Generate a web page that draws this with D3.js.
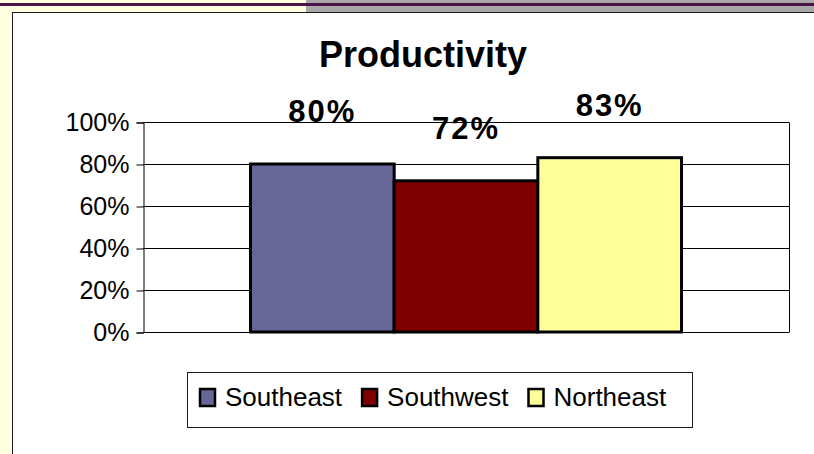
<!DOCTYPE html>
<html>
<head>
<meta charset="utf-8">
<script src="https://cdn.jsdelivr.net/npm/d3@7"></script>
<style>
  html, body { margin: 0; padding: 0; background: #ffffe0; }
  svg { display: block; font-family: "Liberation Sans", Arial, sans-serif; }
</style>
</head>
<body>
<svg id="chart" width="814" height="454"></svg>
<script>
// Chart data
const categories = ["Productivity"];
const seriesNames = ["Southeast", "Southwest", "Northeast"];
const seriesValues = [0.80, 0.72, 0.83];
const seriesColors = ["#666699", "#800000", "#ffff99"];
const tickValues = [0, 0.2, 0.4, 0.6, 0.8, 1.0];
const chartTitle = "Productivity";

const svg = d3.select("#chart");
const W = 814, H = 454;

// Slide background: cream strip, purple rule, grey block on the right
svg.append("rect").attr("x", 0).attr("y", 0).attr("width", W).attr("height", H).attr("fill", "#ffffe0");
svg.append("rect").attr("x", 306).attr("y", 0).attr("width", W - 306).attr("height", 12).attr("fill", "#a8a8a8");
svg.append("rect").attr("x", 0).attr("y", 3).attr("width", W).attr("height", 3).attr("fill", "#4a1446");

// Chart frame
svg.append("rect").attr("x", 12.5).attr("y", 12.5).attr("width", W).attr("height", H)
  .attr("fill", "#ffffff").attr("stroke", "#1a1a1a").attr("stroke-width", 1);

// Plot area
const plot = { left: 143, right: 789, top: 122, bottom: 332 };

const y = d3.scaleLinear().domain([0, 1]).range([plot.bottom, plot.top]);
const x0 = d3.scaleBand().domain(categories).range([plot.left, plot.right])
  .paddingInner(0).paddingOuter(0.2494);
const x1 = d3.scaleBand().domain(seriesNames).range([0, x0.bandwidth()]).padding(0);
const color = d3.scaleOrdinal().domain(seriesNames).range(seriesColors);

// Gridlines
svg.append("g").selectAll("line").data(tickValues).join("line")
  .attr("x1", plot.left).attr("x2", plot.right)
  .attr("y1", d => Math.round(y(d)) + 0.5).attr("y2", d => Math.round(y(d)) + 0.5)
  .attr("stroke", "#000").attr("stroke-width", 1);

// Plot border on the right
svg.append("line")
  .attr("x1", plot.right + 0.5).attr("x2", plot.right + 0.5)
  .attr("y1", Math.round(plot.top) + 0.5).attr("y2", Math.round(plot.bottom) + 0.5)
  .attr("stroke", "#000").attr("stroke-width", 1);

// Y axis
const yAxis = d3.axisLeft(y).tickValues(tickValues).tickFormat(d3.format(".0%"))
  .tickSize(7).tickPadding(7);
const gy = svg.append("g").attr("transform", `translate(${plot.left + 0.5},0.5)`).call(yAxis);
gy.select(".domain").attr("stroke", "#000");
gy.selectAll(".tick line").attr("stroke", "#000");
gy.selectAll(".tick text")
  .attr("fill", "#000")
  .style("font-family", "'Liberation Sans', Arial, sans-serif")
  .style("font-size", "25px");

// Bars
const rows = seriesNames.map((name, i) => ({ name, value: seriesValues[i], cat: categories[0] }));
svg.append("g").selectAll("rect").data(rows).join("rect")
  .attr("x", d => x0(d.cat) + x1(d.name))
  .attr("y", d => y(d.value))
  .attr("width", x1.bandwidth())
  .attr("height", d => y(0) - y(d.value))
  .attr("fill", d => color(d.name))
  .attr("stroke", "#000")
  .attr("stroke-width", 3);

// Value labels
svg.append("g").selectAll("text").data(rows).join("text")
  .attr("x", d => x0(d.cat) + x1(d.name) + x1.bandwidth() / 2)
  .attr("y", d => y(d.value) - 42)
  .attr("text-anchor", "middle")
  .attr("font-weight", "bold")
  .attr("font-size", 31)
  .attr("letter-spacing", 2)
  .attr("fill", "#000")
  .text(d => d3.format(".0%")(d.value));

// Title
svg.append("text")
  .attr("x", 423).attr("y", 67)
  .attr("text-anchor", "middle")
  .attr("font-weight", "bold")
  .attr("font-size", 36)
  .attr("fill", "#000")
  .text(chartTitle);

// Legend
const legend = svg.append("g");
legend.append("rect")
  .attr("x", 187.5).attr("y", 372.5).attr("width", 505).attr("height", 55)
  .attr("fill", "#fff").attr("stroke", "#1a1a1a").attr("stroke-width", 1);

let lx = 200;
seriesNames.forEach((name) => {
  const g = legend.append("g");
  g.append("rect")
    .attr("x", lx).attr("y", 389).attr("width", 15).attr("height", 17)
    .attr("fill", color(name)).attr("stroke", "#000").attr("stroke-width", 2.5);
  const t = g.append("text")
    .attr("x", lx + 25).attr("y", 406)
    .attr("font-size", 26)
    .attr("fill", "#000")
    .text(name);
  lx += 25 + t.node().getComputedTextLength() + 20;
});
</script>
</body>
</html>
